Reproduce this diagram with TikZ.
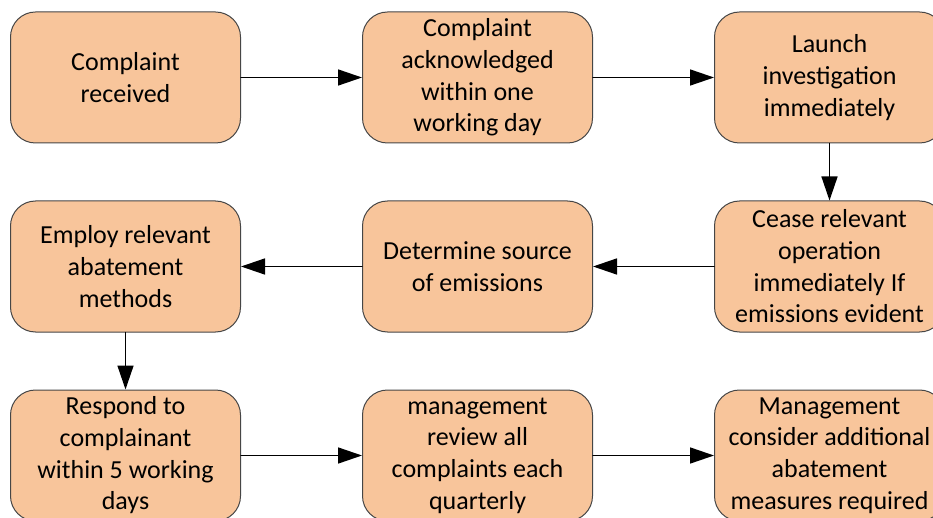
\documentclass[tikz,border=0pt]{standalone}
\usepackage{fontspec}
\setmainfont{Carlito}
\usepackage{tikz}
\usetikzlibrary{positioning,arrows.meta}

\begin{document}
\begin{tikzpicture}
			[line cap=round,
			%Styles
			main node/.style={rectangle,rounded corners=25pt,fill=peach,draw=boxline,line width=1pt,
				minimum width=230pt,minimum height=131pt,inner sep=1pt,align=center,
				font=\fontsize{26pt}{31.7pt}\selectfont},
			flow/.style={line width=1.5pt,-{Triangle[length=24pt,width=16pt]}},
			node distance=57pt and 121pt
			]
			
			%Colors
			\definecolor{peach}{RGB}{248,197,155}	%box fill
			\definecolor{boxline}{RGB}{70,70,70}	%box border
			
			\useasboundingbox (0,0) rectangle (933pt,-518pt);
			
			%The graphic
			\node[main node] (rec) at (125.5pt,-77.5pt) {Complaint\\received};
			\node[main node,right=of rec] (ack) {Complaint\\acknowledged\\within one\\working day};
			\node[main node,right=of ack] (inv) {Launch\\investigation\\immediately};
			\node[main node,below=of inv] (cease) {Cease relevant\\operation\\immediately If\\emissions evident};
			\node[main node,below=of ack] (src) {Determine source\\of emissions};
			\node[main node,below=of rec] (abate) {Employ relevant\\abatement\\methods};
			\node[main node,below=of abate] (resp) {Respond to\\complainant\\within 5 working\\days};
			\node[main node,below=of src] (review) {management\\review all\\complaints each\\quarterly};
			\node[main node,below=of cease] (consider) {Management\\consider additional\\abatement\\measures required};
			
			\path	(rec)	edge[flow] (ack)
					(ack)	edge[flow] (inv)
					(inv)	edge[flow] (cease)
					(cease)	edge[flow] (src)
					(src)	edge[flow] (abate)
					(abate)	edge[flow] (resp)
					(resp)	edge[flow] (review)
					(review)	edge[flow] (consider);
		\end{tikzpicture}
\end{document}
